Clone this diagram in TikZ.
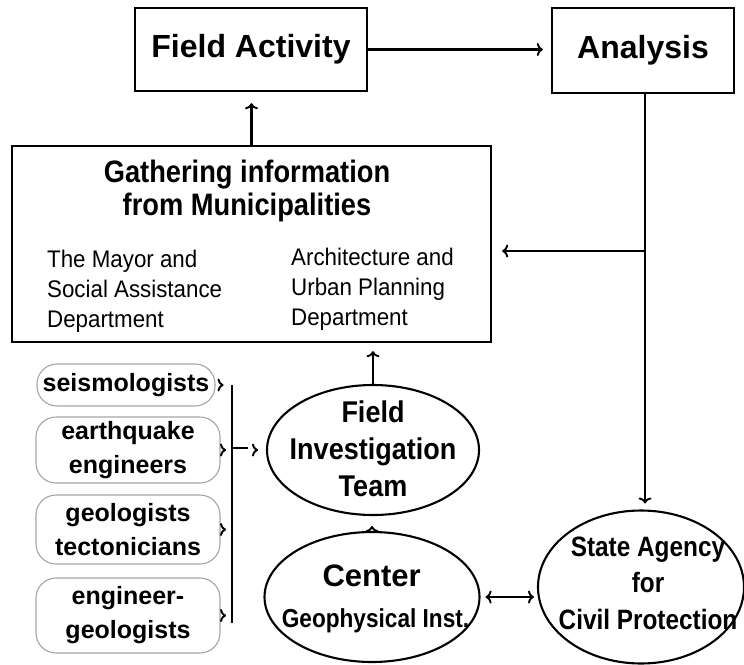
\documentclass[tikz,border=0pt]{standalone}
\usepackage{fontspec}
\setmainfont{Liberation Sans}
\newfontfamily\narrowA[FakeStretch=0.88]{Liberation Sans}
\newfontfamily\narrowB[FakeStretch=0.9]{Liberation Sans}
\newfontfamily\narrowC[FakeStretch=0.87]{Liberation Sans}
\newfontfamily\narrowD[FakeStretch=0.93]{Liberation Sans}
\usetikzlibrary{arrows.meta,shapes.geometric}
\definecolor{pillgray}{RGB}{165,165,165}
\tikzset{
  chev/.tip={Computer Modern Rightarrow[length=6pt,width=13pt,line width=1.9pt]},
  box/.style={draw, line width=2.3pt, inner sep=0pt},
  oval/.style={draw, ellipse, line width=2.1pt, inner sep=0pt},
  pill/.style={draw=pillgray, line width=1.1pt, rounded corners=20pt, inner sep=0pt,
    align=center, font={\fontsize{25}{34}\selectfont\bfseries}},
  conn/.style={line width=2.7pt},
  arr/.style={conn, -{chev}},
  darr/.style={line width=2.3pt, {chev}-{chev}},
  chevonly/.style={line width=1.9pt, -{chev}},
  bigbold/.style={font={\fontsize{32}{38}\selectfont\bfseries}},
  titlefont/.style={font={\fontsize{31}{33}\selectfont\narrowA\bfseries}, align=center, inner sep=0pt},
  subfont/.style={font={\fontsize{24}{30}\selectfont\narrowD}, align=left, inner sep=0pt, anchor=west},
  fitfont/.style={font={\fontsize{30}{37}\selectfont\narrowB\bfseries}, align=center, inner sep=0pt},
  safont/.style={font={\fontsize{28}{36.5}\selectfont\narrowC\bfseries}, align=center, inner sep=0pt},
}
\begin{document}
\begin{tikzpicture}[x=1pt,y=-1pt]
\useasboundingbox (0,0) rectangle (744,664);

% top boxes
\node[box, bigbold, minimum width=232pt, minimum height=83pt] (fa) at (251,49.5) {Field Activity};
\node[box, bigbold, minimum width=182pt, minimum height=85pt] (ana) at (643,50.5) {Analysis};

% gathering box
\node[box, minimum width=479pt, minimum height=196pt] (gath) at (251.5,244) {};
\node[titlefont] (gtitle) at (247,190.5) {Gathering information\\from Municipalities};
\node[subfont] (gleft) at (47,291) {The Mayor and\\Social Assistance\\Department};
\node[subfont] (gright) at (291,289) {Architecture and\\Urban Planning\\Department};

% ellipses
\node[oval, minimum width=212pt, minimum height=130pt] (fit) at (373,450) {};
\node[fitfont] (fitT) at (373,449) {Field\\Investigation\\Team};
\node[oval, minimum width=215pt, minimum height=130pt] (cen) at (372,597) {};
\node[font={\fontsize{31}{36}\selectfont\bfseries}, anchor=base, inner sep=0pt] (cenA) at (371.7,586) {Center};
\node[font={\fontsize{26}{30}\selectfont\narrowC\bfseries}, anchor=base, inner sep=0pt] (cenB) at (375.5,627) {Geophysical Inst.};
\node[oval, minimum width=206pt, minimum height=153pt] (sa) at (641,587) {};
\node[safont] (saT) at (648,583.3) {State Agency\\for\\Civil Protection};

% pills
\node[pill, minimum width=178pt, minimum height=42pt] (seis) at (126,385) {seismologists};
\node[pill, minimum width=184pt, minimum height=66pt] (eq) at (128,450) {earthquake\\engineers};
\node[pill, minimum width=184pt, minimum height=69pt] (geo) at (128,529.5) {geologists\\tectonicians};
\node[pill, minimum width=184pt, minimum height=75pt] (eng) at (128,615.5) {engineer-\\geologists};

% chevrons at pills
\draw[chevonly] ([xshift=7.7pt]seis.east) -- ([xshift=8pt]seis.east);
\draw[chevonly] ([xshift=5.2pt]eq.east) -- ([xshift=5.5pt]eq.east);
\draw[chevonly] ([xshift=5.2pt]geo.east) -- ([xshift=5.5pt]geo.east);
\draw[chevonly] ([xshift=5.2pt]eng.east) -- ([xshift=5.5pt]eng.east);

% bar
\coordinate (barT) at (232,385);
\coordinate (barB) at (232,623);
\coordinate (barM) at (232,448);
\coordinate (stubE) at (248,448);
\draw[conn] (barT) -- (barB);
\draw[conn] (barM) -- (stubE);
\draw[chevonly] ([xshift=-8.3pt]fit.west) -- ([xshift=-8pt]fit.west);

% connectors
\coordinate (vx) at (645,0);
\coordinate (br) at (645,251);
\draw[arr, shorten >=8pt] (fa.east) -- (fa.east -| ana.west);
\draw[arr, shorten >=11pt] (gath.north) -- (gath.north |- fa.south);
\draw[arr, shorten >=6pt] (ana.south -| vx) -- (sa.north -| vx);
\draw[arr, shorten >=10pt] (br) -- (br -| gath.east);
\draw[arr, shorten >=8pt] (fit.north) -- (fit.north |- gath.south);
\draw[arr, shorten <=4pt, shorten >=10pt] (cen.north) -- (cen.north |- fit.south);
\draw[darr, shorten <=5pt, shorten >=3pt] (cen.east) -- (cen.east -| sa.west);
\end{tikzpicture}
\end{document}
